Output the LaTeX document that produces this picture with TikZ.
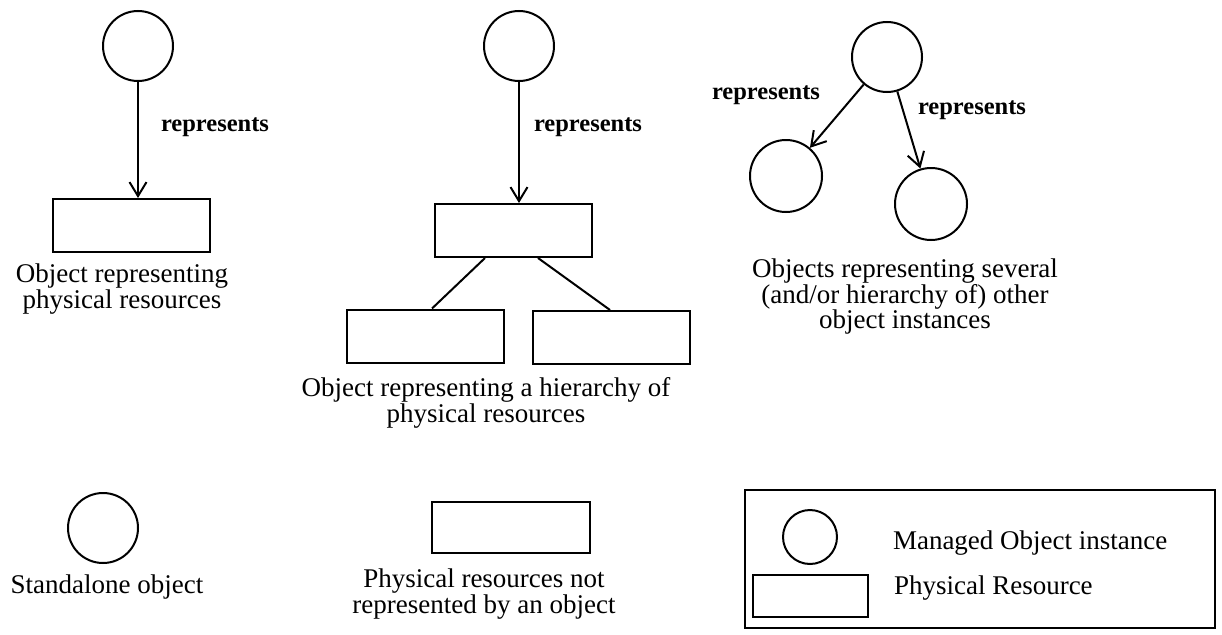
\documentclass[tikz,border=0pt]{standalone}
\usepackage{fontspec}
\setmainfont{Liberation Serif}
\usetikzlibrary{arrows.meta}
\begin{document}
\begin{tikzpicture}[x=1pt,y=-1pt,
  line width=2pt,
  mo/.style={circle,draw,inner sep=0pt,minimum size=70pt},
  res/.style={rectangle,draw,inner sep=0pt,minimum width=157pt,minimum height=53pt},
  rep/.style={-{Straight Barb[length=14pt,width=17pt,line width=2pt]}},
  lbl/.style={font=\fontsize{24.5}{25}\selectfont\bfseries,inner sep=0pt},
  captext/.style={font=\fontsize{27}{25.5}\selectfont,align=center,inner sep=0pt}]
\useasboundingbox[fill=white] (0,0) rectangle (1222,634);

% single object representing one resource
\node[mo] (c1) at (138,46) {};
\node[res] (b1) at (131,225.5) {};
\draw[rep] (c1.south) -- (c1.south |- b1.north);
\node[lbl] (l1) at (215,127) {represents};
\node[captext] (t1) at (122,289) {Object representing\\physical resources};

% object representing a hierarchy of resources
\node[mo] (c2) at (519,46) {};
\node[res] (b2) at (513.5,230.5) {};
\node[res] (b3) at (425,336) {};
\node[res] (b4) at (611,337.5) {};
\draw[rep] (c2.south) -- (c2.south |- b2.north);
\draw ([xshift=-28.5pt]b2.south) -- ([xshift=7pt]b3.north);
\draw ([xshift=24.5pt]b2.south) -- ([xshift=-1pt]b4.north);
\node[lbl] (l2) at (588,127) {represents};
\node[captext] (t2) at (486,403) {Object representing a hierarchy of\\physical resources};

% object representing other object instances
\node[mo] (c3) at (887,57) {};
\node[mo,minimum size=72pt] (c4) at (786,176) {};
\node[mo,minimum size=72pt] (c5) at (931,204) {};
\draw[rep] (c3) -- (c4);
\draw[rep] (c3) -- (c5);
\node[lbl] (l3) at (766,95) {represents};
\node[lbl] (l4) at (972,110) {represents};
\node[captext] (t3) at (905,297) {Objects representing several\\(and/or hierarchy of) other\\object instances};

% standalone items
\node[mo] (c6) at (103,528) {};
\node[captext] (t6) at (107,587) {Standalone object};
\node[res,minimum width=158pt,minimum height=51pt] (b6) at (511,527.5) {};
\node[captext,font=\fontsize{27}{22}\selectfont] (t7) at (484,594) {Physical resources not\\represented by an object};

% legend
\node[draw,rectangle,inner sep=0pt,minimum width=470pt,minimum height=138pt] (key) at (980,559) {};
\node[mo,minimum size=54pt] (kc) at (810,537) {};
\node[res,minimum width=115pt,minimum height=42pt] (kb) at (810.5,596) {};
\node[captext,anchor=west] (kt1) at (892,543) {Managed Object instance};
\node[captext,anchor=west] (kt2) at (893,588) {Physical Resource};
\end{tikzpicture}
\end{document}
